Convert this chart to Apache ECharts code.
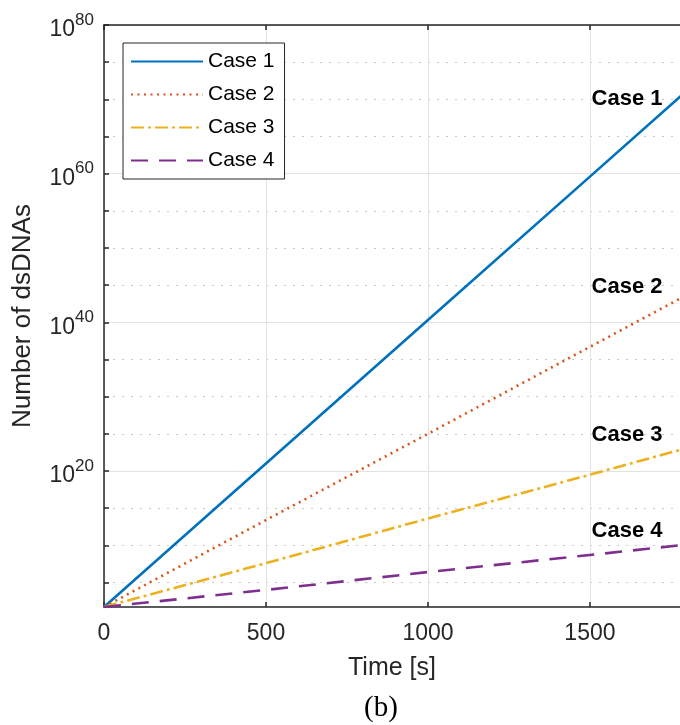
<!DOCTYPE html>
<html>
<head>
<meta charset="utf-8">
<script src="https://cdn.jsdelivr.net/npm/echarts@6/dist/echarts.min.js"></script>
<style>html,body{margin:0;padding:0;background:#fff}#c{width:680px;height:725px}</style>
</head>
<body>
<div id="c"></div>
<script>
// Time [s] sample points and log10(Number of dsDNAs)
const times = [0, 500, 1000, 1500, 1800];
const case1Exp = [1.7, 21.0, 40.3, 59.6, 71.2];
const case2Exp = [1.7, 13.4, 25.0, 36.7, 43.7];
const case3Exp = [1.7, 7.6, 13.6, 19.5, 23.1];
const case4Exp = [1.7, 4.0, 6.4, 8.7, 10.1];
const seriesNames = ['Case 1', 'Case 2', 'Case 3', 'Case 4'];
const xTicks = [0, 500, 1000, 1500];
const yMajorExp = [20, 40, 60, 80];
const yMinorExp = [5, 10, 15, 25, 30, 35, 45, 50, 55, 65, 70, 75];
const xRange = [0, 1778];   // visible part of the time axis (figure is cropped on the right)
const yRangeExp = [1.7, 80];
// in-plot annotation anchors (time, log10 value)
const labelTimes = [1505, 1505, 1505, 1505];
const labelExps = [70.0, 44.75, 24.85, 11.9];

const colors = ['#0072BD', '#D95319', '#EDB120', '#7E2F8E'];
const dashes = ['solid', [2, 4.5], [13, 4, 3, 4], [17, 11]];
const allExp = [case1Exp, case2Exp, case3Exp, case4Exp];
const FONT = 'Liberation Sans, Arial, sans-serif';
const axisColor = '#262626';

const chart = echarts.init(document.getElementById('c'), null, {renderer: 'canvas'});

const lineSeries = seriesNames.map((n, k) => ({
  name: n,
  type: 'line',
  xAxisIndex: 0,
  yAxisIndex: 0,
  symbol: 'none',
  showSymbol: false,
  clip: true,
  data: times.map((t, i) => [t, allExp[k][i]]),
  lineStyle: {color: colors[k], width: 2.6, type: dashes[k]},
  itemStyle: {color: colors[k]},
  z: 3
}));

const labelSeries = {
  name: 'annotations',
  type: 'scatter',
  xAxisIndex: 0,
  yAxisIndex: 0,
  symbolSize: 0,
  silent: true,
  itemStyle: {opacity: 1, color: '#000'},
  data: labelTimes.map((t, i) => ({value: [t, labelExps[i]], name: seriesNames[i]})),
  label: {
    show: true,
    position: 'right',
    distance: 0,
    formatter: p => p.name,
    fontFamily: FONT,
    fontWeight: 'bold',
    fontSize: 22,
    color: '#000',
    opacity: 1,
    textBorderWidth: 0
  },
  z: 4
};

const option = {
  animation: false,
  backgroundColor: '#fff',
  grid: {left: 104, right: 0, top: 25, bottom: 118, containLabel: false},
  legend: {
    data: seriesNames,
    orient: 'vertical',
    left: 123,
    top: 43,
    itemWidth: 72,
    itemHeight: 18,
    itemGap: 12,
    padding: [8, 10, 8, 7],
    borderColor: axisColor,
    borderWidth: 1,
    backgroundColor: '#fff',
    itemStyle: {opacity: 0},
    textStyle: {fontFamily: FONT, fontSize: 21, color: '#000'},
    z: 10
  },
  xAxis: [
    {
      type: 'value', position: 'bottom', min: xRange[0], max: xRange[1],
      name: 'Time [s]', nameLocation: 'middle', nameGap: 49,
      nameTextStyle: {fontFamily: FONT, fontSize: 25, color: axisColor},
      axisLine: {show: true, onZero: false, lineStyle: {color: axisColor, width: 1.5}},
      axisTick: {show: true, inside: true, length: 5, customValues: xTicks, lineStyle: {color: axisColor, width: 1.5}},
      axisLabel: {customValues: xTicks, formatter: v => String(v), fontFamily: FONT, fontSize: 23, color: axisColor, margin: 15},
      splitLine: {show: true, lineStyle: {color: '#e2e2e2', width: 1}}
    },
    {
      type: 'value', position: 'top', min: xRange[0], max: xRange[1],
      axisLine: {show: true, onZero: false, lineStyle: {color: axisColor, width: 1.5}},
      axisTick: {show: true, inside: true, length: 5, customValues: xTicks, lineStyle: {color: axisColor, width: 1.5}},
      axisLabel: {show: false},
      splitLine: {show: false}
    }
  ],
  yAxis: [
    {
      type: 'value', position: 'left', min: yRangeExp[0], max: yRangeExp[1],
      name: 'Number of dsDNAs', nameLocation: 'middle', nameGap: 68, nameRotate: 90,
      nameTextStyle: {fontFamily: FONT, fontSize: 26, color: axisColor},
      axisLine: {show: true, onZero: false, lineStyle: {color: axisColor, width: 1.5}},
      axisTick: {show: true, inside: true, length: 5, customValues: yMajorExp, lineStyle: {color: axisColor, width: 1.5}},
      axisLabel: {
        customValues: yMajorExp,
        margin: 10,
        formatter: v => '{b|10}{s|' + Math.round(v) + '}',
        rich: {
          b: {fontFamily: FONT, fontSize: 23, color: axisColor, padding: [10, 0, 0, 0]},
          s: {fontFamily: FONT, fontSize: 17, color: axisColor, padding: [0, 0, 10, 0]}
        }
      },
      splitLine: {show: true, lineStyle: {color: '#e2e2e2', width: 1}}
    },
    {
      type: 'value', position: 'left', min: yRangeExp[0], max: yRangeExp[1],
      axisLine: {show: false, onZero: false},
      axisTick: {show: true, inside: true, length: 5, customValues: yMinorExp, lineStyle: {color: axisColor, width: 1.5}},
      axisLabel: {show: false},
      splitLine: {show: true, lineStyle: {color: '#c8c8c8', width: 1, type: [2, 7]}}
    }
  ],
  graphic: [
    {type: 'text', left: 364, top: 694, style: {text: '(b)', font: '29px "Liberation Serif", "Times New Roman", serif', fill: '#000'}}
  ],
  series: lineSeries.concat([labelSeries])
};
chart.setOption(option);
</script>
</body>
</html>
